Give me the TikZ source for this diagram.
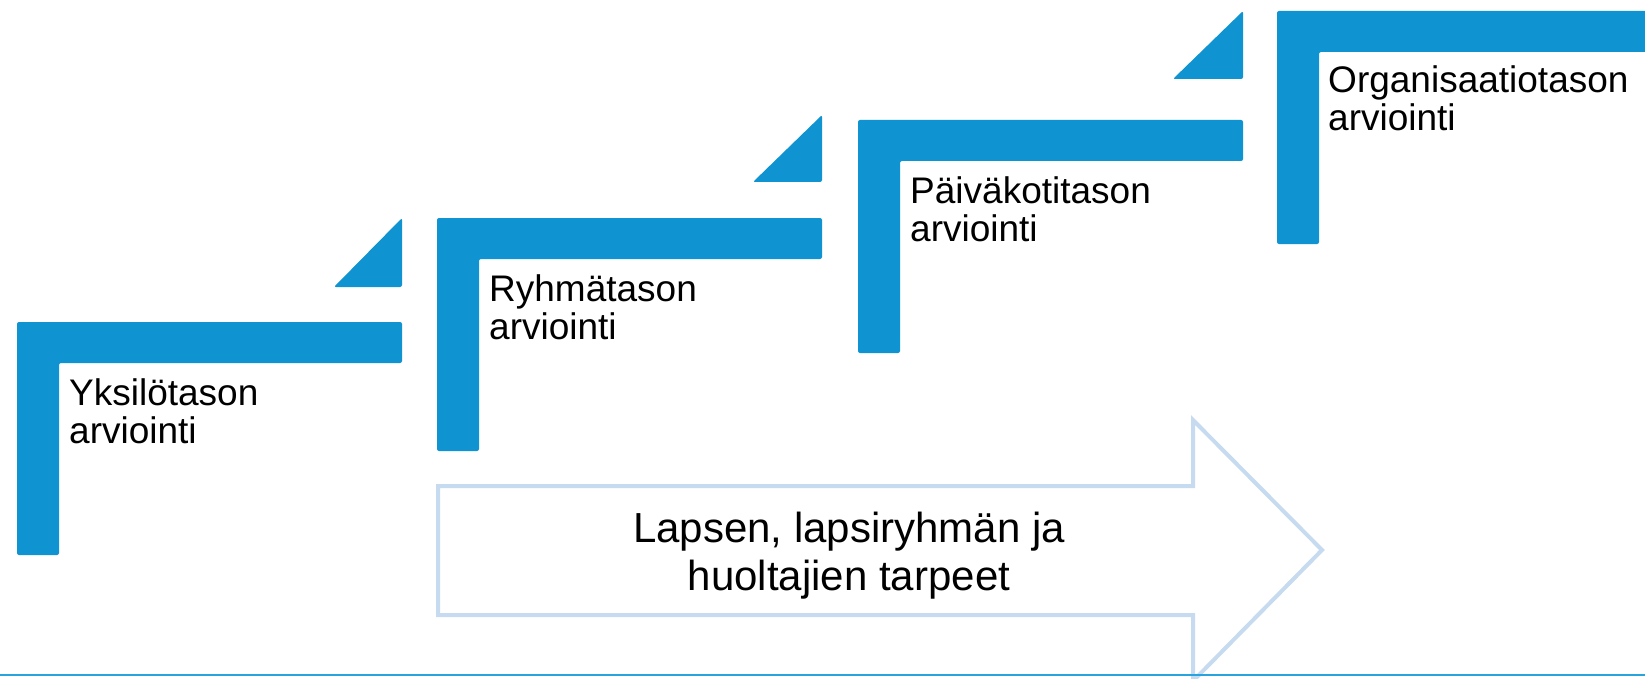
\documentclass[tikz,border=0pt]{standalone}
\usepackage{fontspec}
\setmainfont{Liberation Sans}
\usetikzlibrary{positioning}
\definecolor{stepblue}{HTML}{1093D1}
\definecolor{arrowblue}{HTML}{C6DBEF}
\definecolor{lineblue}{HTML}{27A4DE}
\tikzstyle{stepbar}=[fill=stepblue, rounded corners=2pt]
\tikzstyle{steplabel}=[anchor=base west, inner sep=0pt, align=left, font=\fontsize{37}{38}\selectfont]
\tikzstyle{needsarrow}=[draw=arrowblue, line width=4pt, line join=miter]
\tikzstyle{needslabel}=[anchor=base, inner sep=0pt, align=center, font=\fontsize{42}{48}\selectfont]
\tikzstyle{groundline}=[draw=lineblue, line width=2.7pt]

\begin{document}
\begin{tikzpicture}[x=1pt,y=-1pt]
  \useasboundingbox (0,0) rectangle (1645,679);
  % the four steps
  \foreach \l/\t/\r in {17/322/402, 437/218/822, 858/120/1243, 1277/11/1660}
    \fill[stepbar] (\l,\t) -- (\r,\t) -- (\r,\t+41) -- (\l+42,\t+41) -- (\l+42,\t+233) -- (\l,\t+233) -- cycle;
  % small triangles between the steps
  \fill[stepbar] (334,287) -- (402,287) -- (402,218) -- cycle;
  \fill[stepbar] (753,182) -- (822,182) -- (822,115) -- cycle;
  \fill[stepbar] (1173,79) -- (1243,79) -- (1243,11) -- cycle;
  % base of a label is the baseline of its last line
  \node[steplabel] (indiv) at (69,443) {Yksilötason\\arviointi};
  \node[steplabel] (group) at (489,339) {Ryhmätason\\arviointi};
  \node[steplabel] (daycare) at (910,241) {Päiväkotitason\\arviointi};
  \node[steplabel] (org) at (1328,131) {Organisaatiotason\\arviointi};
  % needs arrow
  \draw[needsarrow] (438,486) -- (1193,486) -- (1193,420) -- (1322,550) -- (1193,681) -- (1193,615) -- (438,615) -- cycle;
  \node[needslabel] (needs) at (849,590) {Lapsen, lapsiryhmän ja\\huoltajien tarpeet};
  \draw[groundline] (0,675) -- (1645,675);
\end{tikzpicture}
\end{document}
